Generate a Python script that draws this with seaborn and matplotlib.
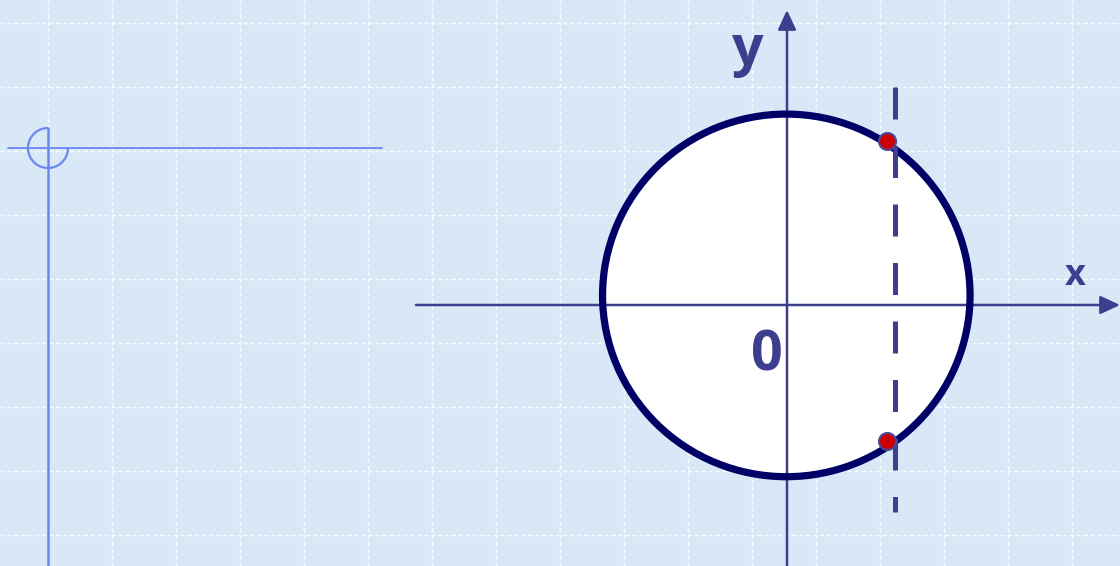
import matplotlib
matplotlib.use("Agg")
import matplotlib.pyplot as plt
import seaborn as sns
import pandas as pd
from matplotlib.patches import Ellipse, Arc

sns.set_theme(style="white")
plt.rcParams['font.family'] = ['Open Sans', 'DejaVu Sans']

# ---- data (pixel-space coordinates of the slide) ----
grid_x = [48, 112, 176, 240, 304, 368, 432, 496, 560, 624, 688, 752, 816, 880, 944, 1008, 1072]
grid_y = [23, 87, 151, 215, 279, 343, 407, 471, 535]

circle_center = [786.3, 295.4]
circle_size = [367.5, 362.6]

dash_x = [895, 895]
dash_y = [87, 512]

point_x = [887, 887]
point_y = [141, 441]

xaxis_x = [416, 1120]
xaxis_y = [305, 305]
yaxis_x = [787, 787]
yaxis_y = [566, 10]

labels = ["y", "x", "0"]
label_x = [747, 1075, 767]
label_y = [50, 276, 356]

deco_h_x = [8, 382]
deco_h_y = [148, 148]
deco_v_x = [48, 48]
deco_v_y = [128, 566]
deco_arc_center = [48, 148]
deco_arc_r = 20

BG = "#d8e8f7"
AXC = "#3e3e8e"
NAVY = "#000066"
DECO = "#6b87f0"

fig = plt.figure(figsize=(11.2, 5.66), dpi=100)
fig.patch.set_facecolor(BG)
ax = fig.add_axes([0, 0, 1, 1])
ax.set_facecolor(BG)
ax.set_xlim(0, 1120)
ax.set_ylim(566, 0)
ax.axis("off")

# grid
for gx in grid_x:
    ax.plot([gx, gx], [0, 566], color="white", lw=1.0, ls=(0, (3, 2)), alpha=0.9, zorder=1)
for gy in grid_y:
    ax.plot([0, 1120], [gy, gy], color="white", lw=1.0, ls=(0, (3, 2)), alpha=0.9, zorder=1)

# decoration top-left
ax.plot(deco_h_x, deco_h_y, color=DECO, lw=1.3, zorder=2)
ax.plot(deco_v_x, deco_v_y, color=DECO, lw=1.8, zorder=2)
ax.add_patch(Arc(deco_arc_center, 2 * deco_arc_r, 2 * deco_arc_r, theta1=0, theta2=270,
                 color=DECO, lw=1.6, zorder=2))

# circle fill
ax.add_patch(Ellipse(circle_center, circle_size[0], circle_size[1], facecolor="white",
                     edgecolor="none", zorder=2))

# axes
ax.annotate("", xy=(xaxis_x[1], xaxis_y[1]), xytext=(xaxis_x[0], xaxis_y[0]),
            arrowprops=dict(arrowstyle="-|>,head_length=0.6,head_width=0.28",
                            mutation_scale=20, lw=1.8, color=AXC, shrinkA=0, shrinkB=0),
            zorder=3)
ax.annotate("", xy=(yaxis_x[1], yaxis_y[1]), xytext=(yaxis_x[0], yaxis_y[0]),
            arrowprops=dict(arrowstyle="-|>,head_length=0.6,head_width=0.28",
                            mutation_scale=20, lw=1.8, color=AXC, shrinkA=0, shrinkB=0),
            zorder=3)

# circle outline
ax.add_patch(Ellipse(circle_center, circle_size[0], circle_size[1], facecolor="none",
                     edgecolor=NAVY, lw=5.2, zorder=4))

# dashed vertical line
dash_df = pd.DataFrame({"x": dash_x, "y": dash_y})
sns.lineplot(data=dash_df, x="x", y="y", ax=ax, color=AXC, lw=3.6, sort=False,
             estimator=None, zorder=5)
ax.lines[-1].set_dashes((6.4, 5.3))
ax.lines[-1].set_dash_capstyle("butt")

# intersection points
pts = pd.DataFrame({"x": point_x, "y": point_y})
sns.scatterplot(data=pts, x="x", y="y", ax=ax, s=150, color="#d00000",
                edgecolor="#4a4a9a", linewidth=1.5, zorder=6)

ax.set_xlim(0, 1120)
ax.set_ylim(566, 0)
ax.axis("off")

# labels
sizes = [40, 26, 40]
for t, lx, ly, fs in zip(labels, label_x, label_y, sizes):
    ax.text(lx, ly, t, color=AXC, fontsize=fs, fontweight="bold",
            ha="center", va="center", zorder=7)

fig.savefig("out.png", dpi=100, facecolor=BG)
